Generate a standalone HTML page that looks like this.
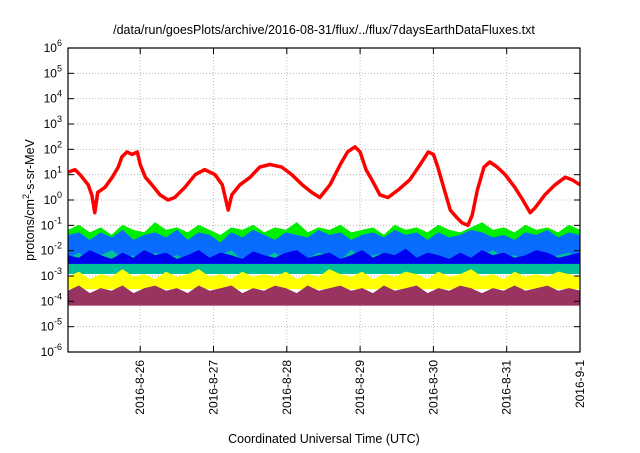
<!DOCTYPE html>
<html><head><meta charset="utf-8"><style>
body{margin:0;background:#fff}
svg text{font-family:"Liberation Sans",sans-serif;fill:#000}
</style></head><body>
<svg id="chart" width="640" height="448" xmlns="http://www.w3.org/2000/svg">
<text x="324" y="34" font-size="12.5" text-anchor="middle">/data/run/goesPlots/archive/2016-08-31/flux/../flux/7daysEarthDataFluxes.txt</text>
<g id="grid"></g><g id="series"></g><g id="axes"></g>
<text x="324" y="443" font-size="12.5" text-anchor="middle">Coordinated Universal Time (UTC)</text>
<text transform="translate(34,200) rotate(-90)" font-size="12.5" text-anchor="middle">protons/cm<tspan font-size="9" dy="-5">2</tspan><tspan dy="5">-s-sr-MeV</tspan></text>
</svg>
<script>
// x: days relative to 2016-9-1 ; y: log10 flux
const dayLabels=["2016-8-26","2016-8-27","2016-8-28","2016-8-29","2016-8-30","2016-8-31","2016-9-1"];
const dayOffsets=[-6,-5,-4,-3,-2,-1,0];
const yExponents=[-6,-5,-4,-3,-2,-1,0,1,2,3,4,5,6];
const redT=[-6.98,-6.89,-6.82,-6.71,-6.66,-6.62,-6.58,-6.48,-6.38,-6.30,-6.25,-6.18,-6.11,-6.04,-6.00,-5.93,-5.84,-5.73,-5.62,-5.53,-5.39,-5.25,-5.12,-4.98,-4.88,-4.80,-4.75,-4.64,-4.50,-4.37,-4.23,-4.07,-3.93,-3.79,-3.66,-3.55,-3.41,-3.27,-3.17,-3.07,-3.00,-2.92,-2.84,-2.73,-2.62,-2.48,-2.32,-2.18,-2.07,-2.00,-1.94,-1.84,-1.77,-1.68,-1.61,-1.53,-1.47,-1.40,-1.31,-1.23,-1.13,-1.02,-0.89,-0.78,-0.68,-0.61,-0.48,-0.34,-0.20,-0.11,0];
const redV=[1.1,1.2,1.0,0.6,0.2,-0.5,0.3,0.5,0.9,1.3,1.7,1.9,1.8,1.9,1.4,0.9,0.6,0.2,0.0,0.1,0.5,1.0,1.2,1.0,0.6,-0.4,0.2,0.6,0.9,1.3,1.4,1.3,1.0,0.6,0.3,0.1,0.6,1.4,1.9,2.1,1.9,1.2,0.8,0.2,0.1,0.4,0.8,1.4,1.9,1.8,1.3,0.3,-0.4,-0.7,-0.9,-1.0,-0.6,0.4,1.3,1.5,1.3,1.0,0.5,0.0,-0.5,-0.3,0.2,0.6,0.9,0.8,0.6];
const greenUp=[-1.2,-1.0,-1.3,-1.1,-1.4,-1.0,-1.2,-1.3,-0.9,-1.2,-1.1,-1.3,-1.0,-1.2,-1.4,-1.1,-1.2,-1.0,-1.3,-1.1,-1.2,-0.9,-1.3,-1.1,-1.2,-1.0,-1.3,-1.2,-1.1,-1.4,-1.0,-1.2,-1.1,-1.3,-1.0,-1.2,-1.3,-1.1,-0.9,-1.2,-1.1,-1.3,-1.0,-1.2,-1.1,-1.3,-1.0,-1.2];
const lblueUp=[-1.4,-1.3,-1.6,-1.3,-1.5,-1.2,-1.6,-1.4,-1.3,-1.5,-1.2,-1.6,-1.3,-1.4,-1.7,-1.3,-1.5,-1.2,-1.4,-1.6,-1.3,-1.4,-1.5,-1.2,-1.4,-1.3,-1.6,-1.4,-1.3,-1.5,-1.2,-1.4,-1.3,-1.6,-1.3,-1.5,-1.4,-1.2,-1.3,-1.5,-1.4,-1.6,-1.3,-1.4,-1.2,-1.5,-1.3,-1.4];
const tealUp=[-2.3,-2.1,-2.4,-2.2,-2.0,-2.3,-2.2,-2.5,-2.1,-2.3,-2.2,-2.4,-2.1,-2.3,-2.2,-2.0,-2.4,-2.2,-2.3,-2.1,-2.4,-2.2,-2.3,-2.1,-2.2,-2.4,-2.0,-2.3,-2.2,-2.1,-2.4,-2.2,-2.3,-2.1,-2.2,-2.4,-2.1,-2.3,-2.2,-2.0,-2.3,-2.2,-2.4,-2.1,-2.3,-2.2,-2.1,-2.3];
const dblueUp=[-2.2,-2.3,-2.0,-2.2,-2.35,-2.1,-2.3,-2.0,-2.2,-2.1,-2.35,-2.2,-2.0,-2.3,-2.1,-2.2,-2.35,-2.05,-2.2,-2.3,-2.1,-2.0,-2.3,-2.2,-2.1,-2.35,-2.2,-2.0,-2.3,-2.1,-2.2,-1.95,-2.3,-2.1,-2.2,-2.35,-2.1,-2.3,-2.0,-2.2,-2.1,-2.3,-2.2,-2.0,-2.1,-2.3,-2.2,-2.1];
const yellowUp=[-3.05,-2.85,-3.15,-2.95,-3.05,-2.75,-3.05,-2.95,-3.15,-2.85,-3.05,-2.95,-2.75,-3.05,-2.95,-3.15,-2.85,-3.05,-2.95,-3.05,-2.85,-3.15,-2.95,-3.05,-2.75,-2.95,-3.05,-2.85,-3.15,-2.95,-3.05,-2.85,-2.95,-3.15,-2.85,-3.05,-2.95,-2.75,-3.05,-2.95,-3.15,-2.85,-3.05,-2.95,-3.05,-2.85,-2.95,-3.05];
const purpleUp=[-3.6,-3.4,-3.7,-3.5,-3.6,-3.4,-3.7,-3.5,-3.4,-3.6,-3.5,-3.7,-3.4,-3.6,-3.5,-3.4,-3.7,-3.5,-3.6,-3.4,-3.5,-3.7,-3.4,-3.6,-3.5,-3.4,-3.6,-3.5,-3.7,-3.4,-3.6,-3.5,-3.4,-3.7,-3.5,-3.6,-3.4,-3.5,-3.7,-3.5,-3.6,-3.4,-3.6,-3.5,-3.4,-3.6,-3.5,-3.6];
const L=68,R=580,T=48,B=352,T0=-6.985,T1=0;
const X=t=>L+(t-T0)/(T1-T0)*(R-L);
const Y=v=>B-(v+6)/12*(B-T);
const NS="http://www.w3.org/2000/svg";
function mk(tag,attrs,parent){const e=document.createElementNS(NS,tag);for(const k in attrs)e.setAttribute(k,attrs[k]);parent.appendChild(e);return e;}
const grid=document.getElementById('grid'),axes=document.getElementById('axes'),ser=document.getElementById('series');
yExponents.forEach(e=>{
  if(e>-6&&e<6){const g=mk('line',{x1:L,x2:R,y1:Y(e),y2:Y(e),stroke:'#bbb','stroke-dasharray':'1,2'},grid);
  }
  const t=mk('text',{x:62,y:Y(e)+4,'font-size':12,'text-anchor':'end'},axes);
  
  t.innerHTML='10<tspan font-size="9" dy="-6">'+e+'</tspan>';
  mk('line',{x1:L,x2:L+6,y1:Y(e),y2:Y(e),stroke:'#000'},axes);
  mk('line',{x1:R,x2:R-6,y1:Y(e),y2:Y(e),stroke:'#000'},axes);
});
dayOffsets.forEach((d,i)=>{
  const x=X(d);
  if(d<0){const g=mk('line',{x1:x,x2:x,y1:T,y2:B,stroke:'#bbb','stroke-dasharray':'1,2'},grid);
  }
  mk('line',{x1:x,x2:x,y1:B,y2:B-6,stroke:'#000'},axes);
  mk('line',{x1:x,x2:x,y1:T,y2:T+6,stroke:'#000'},axes);
  const t=mk('text',{transform:`translate(${x+4},${B+8}) rotate(-90)`,'font-size':12,'text-anchor':'end'},axes);
  
  t.textContent=dayLabels[i];
});
const fr=mk('rect',{x:L,y:T,width:R-L,height:B-T,fill:'none',stroke:'#000','stroke-width':1.2},axes);

function band(vals,lower,color,name){
  const n=vals.length;let d='M'+X(T0)+','+Y(lower);
  vals.forEach((v,i)=>{const t=T0+(T1-T0)*i/(n-1);d+=' L'+X(t).toFixed(1)+','+Y(v).toFixed(1);});
  d+=' L'+X(T1)+','+Y(lower)+' Z';
  const p=mk('path',{d:d,fill:color,stroke:color,'stroke-width':1},ser);
  
}
band(greenUp,-2.5,'#00ee00','green-series');
band(lblueUp,-2.5,'#0a6cff','light-blue-series');
band(tealUp,-2.9,'#00c09a','teal-series');
band(dblueUp,-2.5,'#0000f0','dark-blue-series');
band(yellowUp,-3.5,'#ffff00','yellow-series');
band(purpleUp,-4.15,'#99335f','purple-series');
let rd='';redT.forEach((t,i)=>{rd+=(i?' L':'M')+X(t).toFixed(1)+','+Y(redV[i]).toFixed(1);});
const rp=mk('path',{d:rd,fill:'none',stroke:'#ff0000','stroke-width':3.5,'stroke-linejoin':'round'},ser);

</script>
</body></html>
